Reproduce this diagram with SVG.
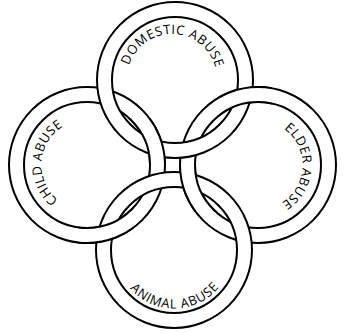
<svg xmlns="http://www.w3.org/2000/svg" xmlns:xlink="http://www.w3.org/1999/xlink" width="344" height="333" viewBox="0 0 344 333">
<style>
  .edge{fill:none;stroke:#000;stroke-width:17}
  .band{fill:none;stroke:#fff;stroke-width:13}
  text{font-family:"Open Sans","Liberation Sans",sans-serif;font-size:13px;fill:#000}
</style>
<defs>
  <path id="tp-top" d="M127,79 A45,45 0 0 1 217,79"/>
  <path id="tp-left" d="M87,210.5 A45.5,45.5 0 0 1 87,119.5"/>
  <path id="tp-right" d="M258,120.5 A44.5,44.5 0 0 1 258,209.5"/>
  <path id="tp-bottom" d="M115.5,250 A58.5,58.5 0 0 0 232.5,250"/>
  <clipPath id="clipA2"><rect x="122" y="118" width="50" height="45"/></clipPath>
  <clipPath id="clipB1"><rect x="218" y="70" width="54" height="54"/></clipPath>
  <clipPath id="clipC1"><rect x="78" y="206" width="56" height="56"/></clipPath>
  <clipPath id="clipD2"><rect x="172" y="164" width="50" height="48"/></clipPath>
</defs>
<rect width="344" height="333" fill="#fff"/>
<g id="child-abuse">
  <g id="ring-left"><circle class="edge" cx="87" cy="165" r="70.5"/><circle class="band" cx="87" cy="165" r="70.5"/></g>
  <text><textPath xlink:href="#tp-left" href="#tp-left" startOffset="52%" text-anchor="middle" textLength="86" lengthAdjust="spacing">CHILD ABUSE</textPath></text>
</g>
<g id="elder-abuse">
  <g id="ring-right"><circle class="edge" cx="258" cy="165" r="70.5"/><circle class="band" cx="258" cy="165" r="70.5"/></g>
  <text><textPath xlink:href="#tp-right" href="#tp-right" startOffset="51%" text-anchor="middle" textLength="87" lengthAdjust="spacing">ELDER ABUSE</textPath></text>
</g>
<g id="domestic-abuse">
  <g id="ring-top"><circle class="edge" cx="175" cy="80" r="70.5"/><circle class="band" cx="175" cy="80" r="70.5"/></g>
  <text><textPath xlink:href="#tp-top" href="#tp-top" startOffset="50.8%" text-anchor="middle" textLength="116" lengthAdjust="spacing">DOMESTIC ABUSE</textPath></text>
</g>
<g id="animal-abuse">
  <g id="ring-bottom"><circle class="edge" cx="174" cy="250" r="70.5"/><circle class="band" cx="174" cy="250" r="70.5"/></g>
  <text><textPath xlink:href="#tp-bottom" href="#tp-bottom" startOffset="50.3%" text-anchor="middle" textLength="101" lengthAdjust="spacing">ANIMAL ABUSE</textPath></text>
</g>
<g id="interlacing">
  <use xlink:href="#ring-left" href="#ring-left" clip-path="url(#clipA2)"/>
  <use xlink:href="#ring-right" href="#ring-right" clip-path="url(#clipB1)"/>
  <use xlink:href="#ring-left" href="#ring-left" clip-path="url(#clipC1)"/>
  <use xlink:href="#ring-right" href="#ring-right" clip-path="url(#clipD2)"/>
</g>
</svg>
